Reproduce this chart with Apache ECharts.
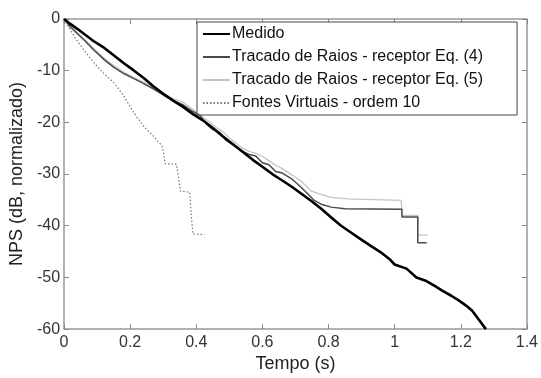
<!DOCTYPE html>
<html>
<head>
<meta charset="utf-8">
<script src="https://cdn.jsdelivr.net/npm/echarts@6/dist/echarts.min.js"></script>
<style>html,body{margin:0;padding:0;background:#fff}#c{width:541px;height:378px}</style>
</head>
<body>
<div id="c"></div>
<script>
const seriesNames = ['Medido', 'Tracado de Raios - receptor Eq. (4)', 'Tracado de Raios - receptor Eq. (5)', 'Fontes Virtuais - ordem 10'];
const xTickLabels = ['0', '0.2', '0.4', '0.6', '0.8', '1', '1.2', '1.4'];
const yTickLabels = ['-60', '-50', '-40', '-30', '-20', '-10', '0'];

const medido = [[0,0],[0.02,-1.0],[0.04,-1.9],[0.063,-3.0],[0.09,-4.3],[0.122,-5.6],[0.15,-7.0],[0.182,-8.6],[0.21,-9.9],[0.241,-11.4],[0.27,-13.0],[0.301,-14.5],[0.33,-15.8],[0.36,-17.0],[0.39,-18.4],[0.42,-19.6],[0.45,-21.1],[0.48,-22.7],[0.51,-24.2],[0.54,-25.7],[0.57,-27.2],[0.6,-28.6],[0.63,-30.0],[0.659,-31.2],[0.69,-32.5],[0.718,-33.8],[0.75,-35.3],[0.778,-36.7],[0.81,-38.5],[0.838,-40.0],[0.87,-41.4],[0.897,-42.6],[0.93,-44.0],[0.957,-45.1],[0.987,-46.6],[1.0,-47.5],[1.036,-48.3],[1.066,-50.0],[1.096,-50.7],[1.12,-51.6],[1.145,-52.6],[1.17,-53.5],[1.195,-54.5],[1.215,-55.4],[1.234,-56.4],[1.255,-58.2],[1.276,-60]];

const raiosEq4 = [[0,0],[0.02,-1.6],[0.04,-2.8],[0.063,-4.2],[0.09,-6.0],[0.122,-7.9],[0.15,-9.3],[0.182,-10.6],[0.21,-11.5],[0.241,-12.5],[0.27,-13.5],[0.30,-14.7],[0.33,-15.8],[0.36,-16.6],[0.39,-17.9],[0.41,-18.6],[0.43,-20.3],[0.45,-21.4],[0.47,-21.9],[0.49,-23.5],[0.51,-24.3],[0.54,-25.6],[0.56,-26.2],[0.58,-26.5],[0.60,-27.8],[0.62,-28.2],[0.64,-29.5],[0.66,-29.8],[0.69,-31.0],[0.718,-32.6],[0.74,-34.0],[0.757,-35.1],[0.78,-35.9],[0.808,-36.4],[0.85,-36.7],[1.022,-36.8],[1.022,-38.3],[1.07,-38.3],[1.07,-43.3],[1.097,-43.3]];

const raiosEq5 = [[0,0],[0.02,-1.4],[0.04,-2.6],[0.063,-4.0],[0.09,-5.7],[0.122,-7.6],[0.15,-9.0],[0.182,-10.3],[0.21,-11.3],[0.241,-12.2],[0.27,-13.3],[0.30,-14.4],[0.33,-15.4],[0.36,-16.1],[0.39,-17.5],[0.42,-19.0],[0.44,-19.9],[0.46,-21.0],[0.48,-21.8],[0.50,-23.0],[0.52,-24.0],[0.54,-25.0],[0.56,-25.6],[0.58,-26.0],[0.60,-26.6],[0.62,-27.4],[0.64,-28.3],[0.659,-28.9],[0.69,-30.2],[0.718,-31.4],[0.748,-33.3],[0.78,-34.0],[0.808,-34.5],[0.857,-34.8],[1.02,-35.1],[1.022,-38.0],[1.07,-38.0],[1.07,-41.8],[1.1,-41.8]];

const fontesVirtuais = [[0,0],[0.033,-3.6],[0.06,-6.0],[0.092,-8.6],[0.12,-10.5],[0.152,-12.4],[0.18,-14.8],[0.21,-18.0],[0.241,-20.8],[0.271,-22.7],[0.296,-24.5],[0.301,-25.8],[0.306,-28.0],[0.34,-28.1],[0.346,-30.5],[0.352,-33.3],[0.38,-33.5],[0.385,-38.2],[0.39,-41.6],[0.425,-41.7]];

const FONT = '"Liberation Sans", Arial, sans-serif';
const axisLineStyle = { color: '#999', width: 1.5 };
const tickStyle = { show: true, inside: true, length: 5, lineStyle: { color: '#888', width: 1 } };

const chart = echarts.init(document.getElementById('c'), null, { renderer: 'canvas' });
chart.setOption({
  animation: false,
  backgroundColor: '#fff',
  textStyle: { fontFamily: FONT },
  grid: { left: 59, right: 12, top: 19, bottom: 39, containLabel: false },
  legend: {
    orient: 'vertical',
    left: 197, top: 22,
    data: seriesNames,
    itemWidth: 27, itemHeight: 12, itemGap: 7,
    padding: [4, 34, 4, 5],
    borderColor: '#444', borderWidth: 1,
    backgroundColor: '#fff',
    itemStyle: { opacity: 0 },
    textStyle: { fontFamily: FONT, fontSize: 16, color: '#111', padding: [0, 0, 0, -3] }
  },
  xAxis: [{
    type: 'value', min: 0, max: 1.4, interval: 0.2,
    name: 'Tempo (s)', nameLocation: 'middle', nameGap: 22,
    nameTextStyle: { fontFamily: FONT, fontSize: 18, color: '#222' },
    axisLine: { show: true, onZero: false, lineStyle: axisLineStyle },
    axisTick: tickStyle,
    axisLabel: { fontFamily: FONT, fontSize: 16, color: '#333', margin: 5,
      formatter: v => xTickLabels[Math.round(v / 0.2)] },
    splitLine: { show: false }
  }, {
    type: 'value', min: 0, max: 1.4, interval: 0.2, position: 'top',
    axisLine: { show: true, onZero: false, lineStyle: axisLineStyle },
    axisTick: tickStyle, axisLabel: { show: false }, splitLine: { show: false }
  }],
  yAxis: [{
    type: 'value', min: -60, max: 0, interval: 10,
    name: 'NPS (dB, normalizado)', nameLocation: 'middle', nameGap: 21,
    nameTextStyle: { fontFamily: FONT, fontSize: 18, color: '#222' },
    axisLine: { show: true, onZero: false, lineStyle: axisLineStyle },
    axisTick: tickStyle,
    axisLabel: { fontFamily: FONT, fontSize: 16, color: '#333', margin: 4,
      formatter: v => yTickLabels[Math.round((v + 60) / 10)] },
    splitLine: { show: false }
  }, {
    type: 'value', min: -60, max: 0, interval: 10, position: 'right',
    axisLine: { show: true, onZero: false, lineStyle: axisLineStyle },
    axisTick: tickStyle, axisLabel: { show: false }, splitLine: { show: false }
  }],
  series: [
    { name: seriesNames[3], type: 'line', data: fontesVirtuais, symbol: 'none', z: 2,
      lineStyle: { color: '#777', width: 1.2, type: [1.5, 2] }, itemStyle: { color: '#777' } },
    { name: seriesNames[2], type: 'line', data: raiosEq5, symbol: 'none', z: 3,
      lineStyle: { color: '#c4c4c4', width: 1.3 }, itemStyle: { color: '#c4c4c4' } },
    { name: seriesNames[1], type: 'line', data: raiosEq4, symbol: 'none', z: 4,
      lineStyle: { color: '#4a4a4a', width: 1.5 }, itemStyle: { color: '#4a4a4a' } },
    { name: seriesNames[0], type: 'line', data: medido, symbol: 'none', z: 5,
      lineStyle: { color: '#000', width: 2.6 }, itemStyle: { color: '#000' } }
  ]
});
</script>
</body>
</html>
